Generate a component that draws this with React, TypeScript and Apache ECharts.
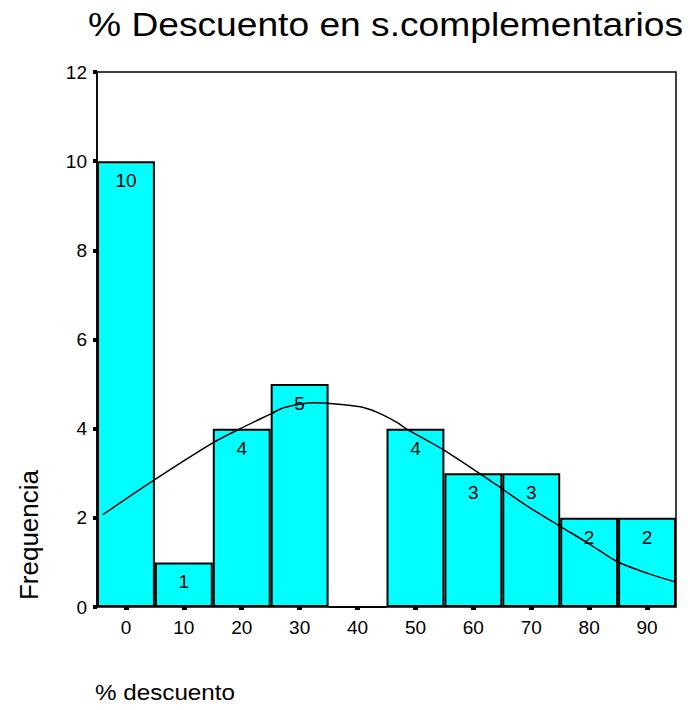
import React, { useEffect, useRef } from "react";
import * as echarts from "echarts";

const titleText = "% Descuento en s.complementarios";
const xAxisTitle = "% descuento";
const yAxisTitle = "Frequencia";
const categories = ["0", "10", "20", "30", "40", "50", "60", "70", "80", "90"];
const counts = [10, 1, 4, 5, 0, 4, 3, 3, 2, 2];
const yTicks = { min: 0, max: 12, interval: 2 };
// normal curve: [x value, frequency]
const curveX = [-4, 4.9, 15, 19.75, 25.3, 27.2, 32.4, 35.8, 40.5, 43.5, 46.8, 48.5, 54.9, 61.5, 65.2, 69.85, 75, 80.2, 84.8, 90, 94.9];
const curveY = [2.07, 2.85, 3.68, 4.0, 4.35, 4.47, 4.58, 4.56, 4.49, 4.36, 4.14, 3.99, 3.52, 2.96, 2.63, 2.22, 1.81, 1.4, 1.02, 0.76, 0.56];

const FONT = "'Liberation Sans', Arial, sans-serif";

export default function App() {
  const ref = useRef<HTMLDivElement>(null);
  useEffect(() => {
    document.body.style.margin = "0";
    if (!ref.current) return;
    const chart = echarts.init(ref.current, null, { renderer: "svg" });
    chart.setOption({
      animation: false,
      backgroundColor: "#fff",
      textStyle: { fontFamily: FONT },
      grid: {
        left: 97,
        right: 14,
        top: 72,
        bottom: 103,
        show: true,
        borderColor: "#000",
        borderWidth: 1.5,
        backgroundColor: "transparent",
      },
      graphic: [
        {
          type: "text",
          left: 88,
          top: 8,
          scaleX: 1.127,
          style: { text: titleText, font: `33px ${FONT}`, fill: "#000" },
        },
        {
          type: "text",
          left: 95,
          top: 681,
          scaleX: 1.127,
          style: { text: xAxisTitle, font: `21.5px ${FONT}`, fill: "#000" },
        },
        {
          type: "text",
          left: 16,
          top: 470,
          rotation: Math.PI / 2,
          style: { text: yAxisTitle, font: `26px ${FONT}`, fill: "#000" },
        },
      ],
      xAxis: [
        {
          type: "category",
          data: categories,
          boundaryGap: true,
          offset: 3,
          axisLine: { show: false },
          axisTick: {
            show: true,
            alignWithLabel: true,
            length: 3,
            lineStyle: { color: "#000", width: 5 },
          },
          axisLabel: { color: "#000", fontSize: 19, margin: 8, fontFamily: FONT },
          splitLine: { show: false },
        },
        {
          type: "value",
          min: -5,
          max: 95,
          show: false,
        },
      ],
      yAxis: {
        type: "value",
        min: yTicks.min,
        max: yTicks.max,
        interval: yTicks.interval,
        axisLine: { show: true, onZero: false, lineStyle: { color: "#000", width: 1.5 } },
        axisTick: { show: true, length: 4, lineStyle: { color: "#000", width: 4 } },
        axisLabel: { color: "#000", fontSize: 19, margin: 10, fontFamily: FONT },
        splitLine: { show: false },
      },
      series: [
        {
          type: "bar",
          xAxisIndex: 0,
          data: counts,
          barWidth: "100%",
          barGap: "0%",
          itemStyle: { color: "#00FFFF", borderColor: "#000", borderWidth: 2 },
          label: {
            show: true,
            position: "insideTop",
            distance: 10,
            color: "#000",
            fontSize: 19,
            fontFamily: FONT,
            formatter: (p: any) => (p.value ? String(p.value) : ""),
          },
          z: 2,
        },
        {
          type: "line",
          xAxisIndex: 1,
          data: curveX.map((x, i) => [x, curveY[i]]),
          smooth: 0.3,
          showSymbol: false,
          symbol: "none",
          lineStyle: { color: "#000", width: 1.5 },
          z: 5,
        },
      ],
    });
    return () => chart.dispose();
  }, []);
  return (
    <div
      ref={ref}
      style={{ position: "absolute", left: 0, top: 0, width: 690, height: 710 }}
    />
  );
}
